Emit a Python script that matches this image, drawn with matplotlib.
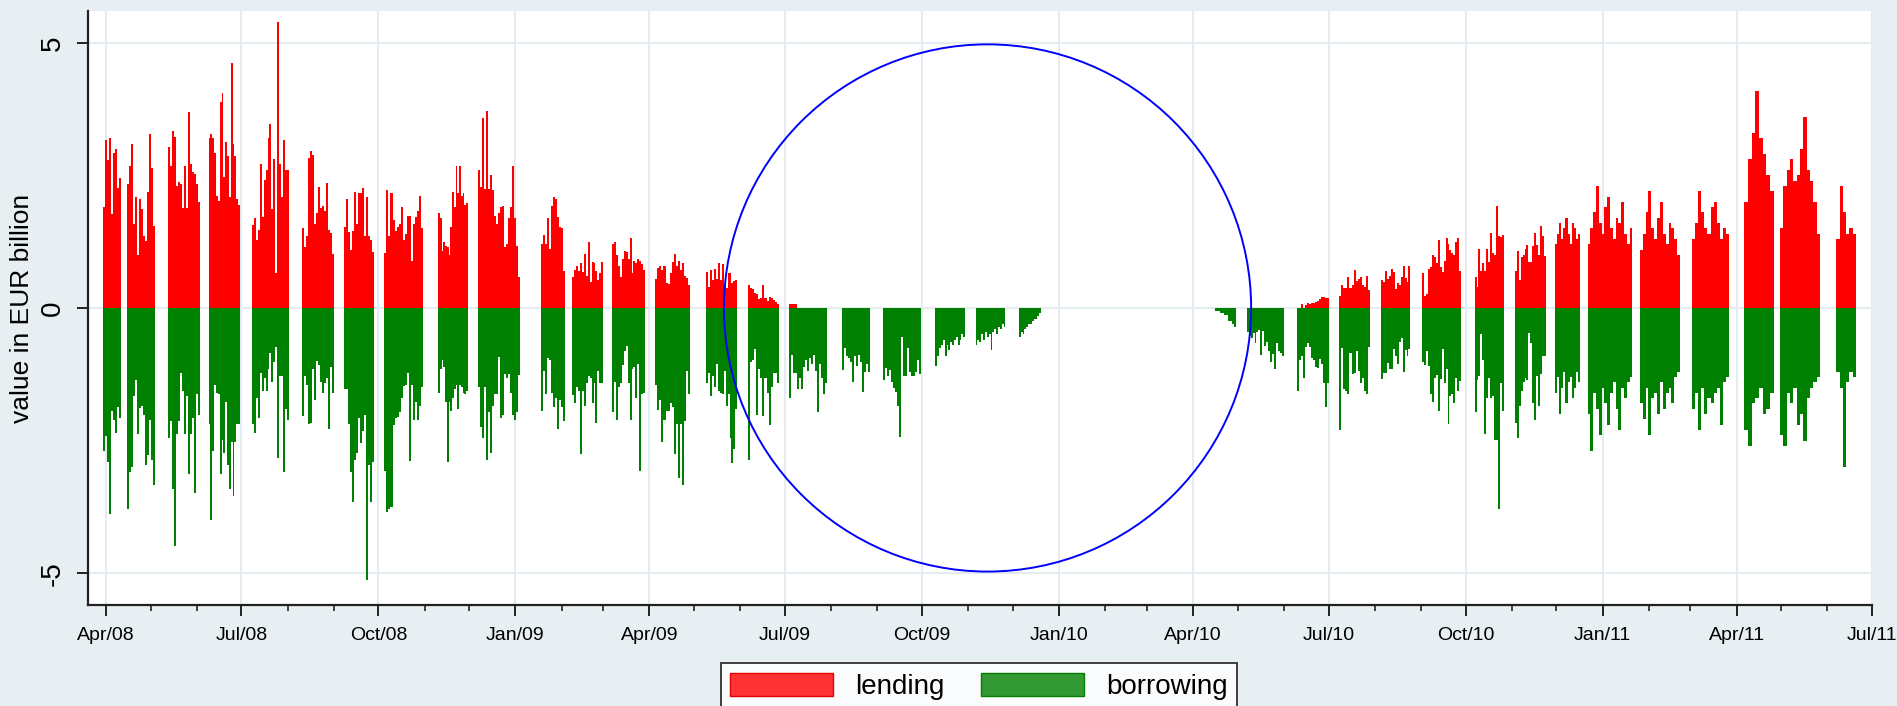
import numpy as np
import pandas as pd
import matplotlib
matplotlib.use("Agg")
import matplotlib.pyplot as plt
import matplotlib.dates as mdates
from matplotlib.patches import Ellipse, Patch

plt.rcParams['font.family'] = ['Liberation Sans', 'DejaVu Sans']

# first and last calendar day of each reserve period block
period_start = ['2008-03-30', '2008-04-15', '2008-05-13', '2008-06-09', '2008-07-08',
                '2008-08-11', '2008-09-08', '2008-10-05', '2008-11-10', '2008-12-07',
                '2009-01-18', '2009-02-08', '2009-03-07', '2009-04-05', '2009-05-09',
                '2009-06-06', '2009-07-04', '2009-08-08', '2009-09-05', '2009-10-10',
                '2009-11-06', '2009-12-05', '2010-04-16', '2010-05-07', '2010-06-10',
                '2010-07-08', '2010-08-05', '2010-09-02', '2010-10-07', '2010-11-03',
                '2010-11-30', '2010-12-22', '2011-01-26', '2011-03-02', '2011-04-06',
                '2011-04-30', '2011-06-07']
period_end = ['2008-04-10', '2008-05-03', '2008-06-02', '2008-06-29', '2008-08-01',
              '2008-08-31', '2008-09-27', '2008-10-30', '2008-11-29', '2009-01-03',
              '2009-02-02', '2009-02-28', '2009-03-28', '2009-04-27', '2009-05-29',
              '2009-06-26', '2009-07-28', '2009-08-26', '2009-09-29', '2009-10-29',
              '2009-11-25', '2009-12-19', '2010-04-29', '2010-05-31', '2010-06-30',
              '2010-07-28', '2010-08-24', '2010-09-27', '2010-10-26', '2010-11-23',
              '2010-12-16', '2011-01-20', '2011-02-21', '2011-03-26', '2011-04-25',
              '2011-05-26', '2011-06-19']

# daily lending (EUR bn) within each block
lending = [
    [1.91, 3.17, 2.79, 3.21, 1.77, 2.93, 3.0, 2.26, 2.45],
    [2.33, 2.68, 3.10, 1.59, 2.09, 1.0, 2.05, 1.87, 1.36, 1.26, 2.19, 3.28, 2.63, 1.54],
    [3.03, 2.68, 3.33, 3.22, 2.30, 2.37, 2.33, 1.88, 2.68, 1.88, 3.70, 2.72, 2.56, 2.53, 2.33, 2.0],
    [3.21, 3.28, 3.21, 2.93, 2.12, 2.02, 3.88, 4.05, 2.47, 3.12, 2.86, 2.09, 4.61, 3.10, 2.86, 2.05, 1.95],
    [1.57, 1.69, 1.29, 1.47, 2.72, 1.71, 2.42, 2.61, 3.21, 3.46, 1.87, 2.80, 0.65, 5.40, 2.72, 2.09, 3.17, 2.60, 2.60],
    [1.50, 1.14, 1.36, 2.82, 2.96, 2.88, 1.58, 1.79, 2.28, 1.88, 1.93, 1.83, 2.35, 1.47, 1.42, 1.02],
    [1.52, 2.05, 1.43, 1.10, 1.45, 2.19, 1.59, 2.16, 2.16, 2.26, 1.35, 2.09, 1.35, 1.28, 1.05],
    [1.03, 2.23, 1.36, 2.16, 1.66, 1.45, 1.52, 1.59, 1.91, 1.29, 1.40, 1.73, 1.73, 0.89, 1.59, 1.71, 1.83, 2.12, 1.50],
    [1.79, 1.70, 1.07, 1.24, 1.17, 1.15, 1.0, 1.52, 2.19, 1.91, 2.68, 2.16, 2.68, 2.12, 2.16, 1.95, 1.97],
    [2.60, 2.28, 3.58, 2.25, 3.72, 2.25, 2.51, 2.23, 1.73, 1.58, 1.79, 1.91, 1.93, 1.14, 1.21, 1.69, 1.91, 2.67, 1.69, 1.17, 0.58],
    [1.21, 1.38, 1.21, 1.69, 1.12, 1.93, 2.09, 2.05, 1.71, 1.52, 1.50, 0.70],
    [0.58, 0.72, 0.80, 0.70, 0.84, 0.68, 1.01, 0.61, 1.24, 0.49, 0.87, 0.84, 0.70, 0.52, 0.66, 0.87],
    [1.21, 1.24, 1.00, 0.80, 0.58, 0.92, 1.08, 1.05, 0.93, 1.31, 0.65, 0.89, 0.84, 0.93, 0.89, 0.82, 0.72],
    [0.54, 0.75, 0.80, 0.72, 0.79, 0.47, 0.45, 0.65, 0.87, 1.01, 0.80, 0.89, 0.72, 0.84, 0.61, 0.56, 0.44],
    [0.68, 0.40, 0.72, 0.52, 0.73, 0.54, 0.84, 0.52, 0.82, 0.44, 0.37, 0.65, 0.66, 0.47, 0.51, 0.52],
    [0.44, 0.38, 0.35, 0.28, 0.26, 0.17, 0.19, 0.44, 0.19, 0.14, 0.21, 0.19, 0.15, 0.12, 0.07],
    [0.07, 0.07, 0.07, 0.07, 0, 0, 0, 0, 0, 0, 0, 0, 0, 0, 0, 0, 0, 0, 0],
    [0] * 14,
    [0] * 19,
    [0] * 16,
    [0] * 16,
    [0] * 12,
    [0] * 10,
    [0] * 19,
    [0, 0, 0.07, 0, 0.05, 0.10, 0.08, 0.10, 0.10, 0.12, 0.14, 0.17, 0.21, 0.21, 0.19, 0.19],
    [0.22, 0.44, 0.37, 0.37, 0.58, 0.37, 0.44, 0.72, 0.51, 0.54, 0.58, 0.44, 0.40, 0.61, 0.33],
    [0.52, 0.49, 0.70, 0.54, 0.61, 0.73, 0.68, 0.35, 0.47, 0.44, 0.58, 0.80, 0.56, 0.49, 0.80],
    [0.66, 0.22, 0.26, 0.73, 0.77, 1.0, 0.96, 0.84, 1.28, 0.77, 0.68, 0.89, 1.31, 1.21, 1.10, 1.03, 1.0, 1.24, 1.31, 0.70],
    [0.58, 0.40, 1.12, 0.70, 0.84, 0.70, 1.12, 0.87, 1.42, 1.03, 1.0, 1.92, 1.36, 1.33, 1.38],
    [0.70, 1.07, 0.52, 0.96, 1.0, 1.12, 1.19, 0.87, 0.86, 1.17, 1.42, 1.19, 1.0, 1.54, 1.35, 0.98],
    [1.2, 1.4, 1.6, 1.3, 1.5, 1.7, 1.4, 1.2, 1.6, 1.5, 1.3, 1.4],
    [1.2, 1.5, 1.8, 2.3, 1.6, 1.4, 1.9, 2.1, 1.5, 1.3, 1.7, 1.6, 2.0, 1.4, 1.2, 1.5],
    [1.1, 1.4, 1.8, 2.2, 1.5, 1.3, 1.7, 2.0, 1.4, 1.2, 1.6, 1.5, 1.3, 1.0],
    [1.3, 1.6, 2.2, 1.8, 1.5, 1.4, 1.9, 2.0, 1.6, 1.3, 1.5, 1.4],
    [2.0, 2.8, 3.3, 4.1, 3.2, 2.9, 2.5, 2.2],
    [1.5, 2.3, 2.6, 2.8, 2.4, 2.5, 3.0, 3.6, 2.6, 2.4, 2.0, 1.4],
    [1.3, 2.3, 1.8, 1.4, 1.5, 1.4],
]

# daily borrowing (EUR bn, negative) within each block
borrowing = [
    [-2.69, -2.42, -2.9, -3.89, -1.94, -2.11, -2.35, -1.87, -2.08],
    [-3.79, -3.10, -2.99, -1.66, -1.36, -2.38, -1.89, -1.85, -2.01, -2.97, -2.78, -2.11, -2.86, -3.34],
    [-2.45, -2.14, -3.42, -4.48, -2.38, -2.14, -1.22, -1.56, -2.37, -1.66, -3.14, -2.38, -2.08, -3.48, -1.63, -2.01],
    [-2.18, -3.99, -2.69, -1.46, -1.60, -1.63, -3.14, -2.49, -2.73, -1.77, -2.97, -3.41, -2.52, -3.55, -2.52, -2.18, -2.18],
    [-2.18, -2.35, -1.70, -2.08, -1.22, -1.56, -1.32, -1.56, -1.15, -0.84, -1.39, -1.01, -0.74, -2.83, -1.29, -1.29, -3.10, -1.90, -2.11],
    [-2.03, -1.29, -1.46, -2.19, -2.16, -1.15, -1.73, -1.0, -1.08, -1.39, -1.60, -1.42, -1.32, -2.28, -1.12, -1.60],
    [-1.53, -1.53, -2.18, -3.10, -3.66, -2.86, -2.73, -2.08, -2.55, -2.32, -2.01, -5.12, -2.97, -3.66, -2.90],
    [-3.07, -3.84, -3.79, -3.75, -2.21, -2.08, -2.05, -1.97, -1.70, -1.48, -1.46, -1.22, -2.88, -1.46, -2.11, -1.77, -2.11, -1.84, -1.49],
    [-1.60, -1.16, -0.98, -1.12, -1.77, -2.90, -1.77, -1.94, -1.70, -1.53, -1.46, -1.90, -1.46, -1.49, -1.60, -1.63, -1.56],
    [-1.49, -2.25, -2.45, -1.49, -2.86, -1.96, -2.73, -1.84, -1.63, -1.63, -0.93, -2.08, -2.01, -1.25, -1.32, -1.25, -1.60, -2.01, -2.11, -1.96, -1.27],
    [-1.94, -1.18, -1.63, -0.95, -0.98, -1.60, -1.87, -1.70, -2.28, -1.73, -1.87, -2.14],
    [-1.64, -1.80, -1.49, -1.56, -2.76, -1.56, -1.84, -1.42, -1.29, -1.32, -1.80, -1.42, -2.16, -1.18, -1.42, -1.42],
    [-1.97, -1.39, -2.11, -1.49, -1.42, -1.08, -0.81, -0.71, -1.42, -2.11, -1.16, -1.12, -1.70, -1.05, -3.07, -1.63, -1.60],
    [-1.46, -1.92, -1.73, -2.52, -2.11, -1.94, -1.94, -1.80, -1.87, -2.76, -2.18, -3.21, -2.18, -3.34, -2.14, -1.18, -1.63],
    [-1.42, -1.22, -1.66, -1.29, -1.49, -1.05, -1.56, -1.60, -1.63, -1.18, -1.84, -1.63, -2.45, -2.93, -2.66, -1.90],
    [-2.86, -1.01, -0.98, -0.77, -2.01, -1.15, -1.32, -2.04, -1.32, -1.60, -2.21, -1.49, -1.22, -1.22, -1.42],
    [-1.70, -0.88, -1.22, -1.22, -1.53, -1.32, -1.53, -1.12, -0.98, -1.18, -0.95, -1.05, -0.88, -1.18, -1.97, -1.05, -1.32, -1.63, -1.42],
    [-1.17, -0.76, -0.91, -0.95, -1.02, -1.39, -0.91, -1.10, -0.88, -1.02, -1.58, -1.21, -1.06, -1.21],
    [-1.36, -1.13, -1.28, -1.17, -1.39, -1.51, -1.58, -1.84, -2.43, -0.54, -1.28, -1.28, -0.76, -1.21, -1.28, -1.28, -1.21, -0.99, -1.25],
    [-1.1, -0.9, -0.76, -0.69, -0.61, -0.9, -0.7, -0.8, -0.65, -0.7, -0.6, -0.55, -0.7, -0.6, -0.5, -0.55],
    [-0.7, -0.6, -0.65, -0.5, -0.6, -0.45, -0.55, -0.5, -0.8, -0.45, -0.4, -0.5, -0.35, -0.4, -0.3, -0.35],
    [-0.55, -0.45, -0.5, -0.4, -0.35, -0.3, -0.3, -0.25, -0.2, -0.2, -0.15, -0.1],
    [-0.05, -0.05, -0.09, -0.09, -0.14, -0.14, -0.25, -0.25, -0.30, -0.35],
    [-0.45, -0.53, -0.57, -0.48, -0.66, -0.45, -0.41, -0.88, -0.43, -0.71, -0.64, -0.82, -1.01, -0.86, -1.16, -0.67, -0.81, -0.84, -0.91],
    [-1.56, -0.98, -0.91, -1.32, -0.74, -0.67, -0.73, -0.95, -0.98, -1.12, -1.14, -0.96, -1.05, -1.42, -1.87, -1.41],
    [-2.30, -0.75, -1.53, -1.56, -1.63, -0.84, -1.25, -1.22, -0.81, -1.18, -1.42, -1.32, -1.56, -1.63, -0.74],
    [-1.34, -1.23, -1.23, -1.03, -1.16, -1.16, -0.77, -0.91, -1.05, -0.64, -0.57, -1.21, -0.79, -0.91, -0.77],
    [-1.01, -1.07, -0.82, -1.10, -1.62, -1.77, -1.32, -1.27, -1.94, -1.34, -0.77, -1.42, -1.15, -2.19, -1.66, -1.63, -1.80, -1.32, -1.56, -1.37],
    [-1.97, -1.36, -1.29, -0.50, -0.98, -2.38, -1.70, -1.32, -1.70, -1.66, -2.49, -2.49, -3.79, -1.42, -1.94],
    [-2.16, -2.45, -1.84, -1.56, -1.39, -1.32, -1.36, -0.47, -0.67, -1.80, -2.11, -1.29, -1.84, -1.25, -0.91, -0.91],
    [-1.6, -1.3, -2.0, -1.5, -1.2, -1.8, -1.4, -1.3, -1.7, -1.5, -1.2, -1.4],
    [-2.0, -2.7, -1.6, -1.9, -2.4, -1.5, -1.8, -2.2, -1.6, -1.4, -1.9, -2.3, -1.5, -1.7, -1.4, -1.3],
    [-1.8, -2.1, -1.5, -2.4, -1.7, -1.6, -2.0, -1.4, -1.9, -1.6, -1.5, -1.8, -1.3, -1.2],
    [-1.9, -1.6, -2.3, -1.5, -2.0, -1.7, -1.8, -1.6, -1.5, -2.2, -1.4, -1.3],
    [-2.3, -2.6, -1.8, -1.7, -1.5, -2.0, -1.9, -1.6],
    [-2.4, -2.6, -1.6, -1.8, -1.5, -2.2, -2.0, -2.5, -1.7, -1.5, -1.4, -1.3],
    [-1.2, -1.5, -3.0, -1.4, -1.2, -1.3],
]

# circle marking the period without lending
circle_centre = '2009-11-14'
circle_halfwidth_days = 177
circle_radius = 4.97

bg = '#e8eff2'
grid_col = '#e4ecef'

fig = plt.figure(figsize=(18.97, 7.06), dpi=100, facecolor=bg)
ax = fig.add_axes([0.0464, 0.1431, 0.9405, 0.8414])
ax.set_facecolor('white')

for start, end, lend, borr in zip(period_start, period_end, lending, borrowing):
    x0 = mdates.date2num(pd.Timestamp(start))
    x1 = mdates.date2num(pd.Timestamp(end)) + 1
    n = len(lend)
    w = (x1 - x0) / n
    xs = x0 + w * (np.arange(n) + 0.5)
    ax.bar(xs, lend, width=w, color='#ff0000', linewidth=0, zorder=2)
    ax.bar(xs, borr, width=w, color='#008000', linewidth=0, zorder=2)

cx = mdates.date2num(pd.Timestamp(circle_centre))
ax.add_patch(Ellipse((cx, 0), 2 * circle_halfwidth_days, 2 * circle_radius,
                     fill=False, edgecolor='#0000ff', linewidth=1.4, zorder=3))

ax.set_xlim(mdates.date2num(pd.Timestamp('2008-03-20')),
            mdates.date2num(pd.Timestamp('2011-07-01')))
ax.set_ylim(-5.6, 5.6)

ax.xaxis.set_major_locator(mdates.MonthLocator(bymonth=[1, 4, 7, 10]))
ax.xaxis.set_minor_locator(mdates.MonthLocator())
ax.xaxis.set_major_formatter(mdates.DateFormatter('%b/%y'))
ax.set_yticks([-5, 0, 5])
ax.set_yticklabels(['-5', '0', '5'], rotation=90, va='center')

ax.grid(True, which='major', color=grid_col, linewidth=1.5, zorder=0)
ax.set_axisbelow(True)

for side in ['top', 'right']:
    ax.spines[side].set_visible(False)
for side in ['left', 'bottom']:
    ax.spines[side].set_color('#222222')
    ax.spines[side].set_linewidth(1.6)

ax.tick_params(axis='x', which='major', length=8, width=1.4, labelsize=14, pad=8, color='#222222')
ax.tick_params(axis='x', which='minor', length=4, width=1.2, color='#222222')
ax.tick_params(axis='y', which='major', length=8, width=1.4, labelsize=20, pad=8, color='#222222')

ax.set_ylabel('value in EUR billion', fontsize=19, labelpad=4)

handles = [Patch(facecolor='#ff3333', edgecolor='#e00000', linewidth=1),
           Patch(facecolor='#339933', edgecolor='#008000', linewidth=1)]
leg = fig.legend(handles, ['lending', 'borrowing'], ncol=2, loc='upper center',
                 bbox_to_anchor=(979 / 1897, 1 - 663 / 706), fontsize=20,
                 frameon=True, fancybox=False, edgecolor='#111111',
                 handlelength=3.7, handleheight=0.9, handletextpad=0.8,
                 columnspacing=1.3, borderpad=0.35, borderaxespad=0)
leg.get_frame().set_linewidth(1.4)

fig.savefig('out.png', dpi=100, facecolor=bg)
